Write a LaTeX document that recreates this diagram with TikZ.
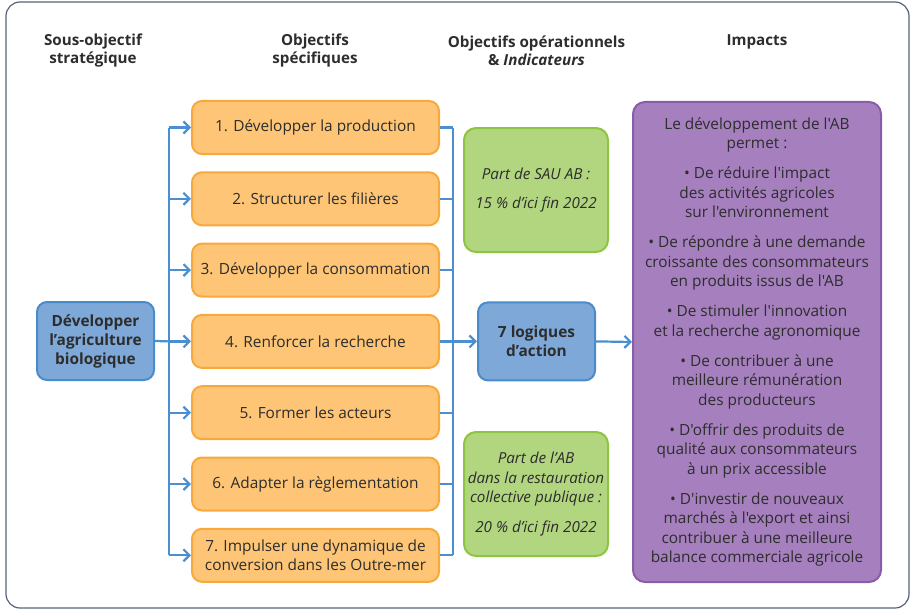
\documentclass[tikz,border=0pt]{standalone}
\usepackage{fontspec}
\setmainfont{Open Sans}[Ligatures=TeXOff]
\usetikzlibrary{arrows.meta}
\definecolor{orF}{HTML}{FDC575}
\definecolor{orD}{HTML}{F7A93B}
\definecolor{blF}{HTML}{7DA8D8}
\definecolor{blD}{HTML}{4A8BCB}
\definecolor{grF}{HTML}{B2D57F}
\definecolor{grD}{HTML}{8CC540}
\definecolor{puF}{HTML}{A680BE}
\definecolor{puD}{HTML}{8A5BA8}
\definecolor{cn}{HTML}{4B8FD0}
\definecolor{txt}{HTML}{2D2D2D}
\definecolor{frame}{HTML}{56627A}
\begin{document}
\begin{tikzpicture}[x=1pt,y=-1pt,
  head/.style={font=\fontsize{15.2}{18}\selectfont\bfseries, text=txt, align=center},
  obox/.style={draw=orD, fill=orF, line width=2pt, rounded corners=10pt, minimum width=247pt, minimum height=53pt, align=center, text=txt, inner sep=2pt, font=\fontsize{15.4}{19}\selectfont},
  bbox/.style={draw=blD, fill=blF, line width=2pt, rounded corners=10pt, minimum width=117pt, minimum height=78pt, align=center, text=txt, inner sep=2pt, font=\fontsize{15.4}{19}\selectfont\bfseries},
  gbox/.style={draw=grD, fill=grF, line width=2pt, rounded corners=12pt, minimum width=144pt, minimum height=124pt, align=center, text=txt, inner sep=2pt, font=\fontsize{15.2}{19.5}\selectfont\itshape},
  pbox/.style={draw=puD, fill=puF, line width=2pt, rounded corners=12pt, minimum width=248pt, minimum height=480pt, align=center, text=txt, inner sep=2pt, font=\fontsize{15.4}{19.5}\selectfont},
  conn/.style={draw=cn, line width=2.2pt},
  arr/.style={conn, -{Straight Barb[length=6pt,width=12pt]}},
]
\useasboundingbox (0,0) rectangle (911,610);
\clip (0,0) rectangle (911,610);
\draw[frame, line width=1.2pt, rounded corners=14pt] (6,2) rectangle (909,608);

% headers
\node[head] (h1) at (93,51) {Sous-objectif\\stratégique};
\node[head] (h2) at (315,51) {Objectifs\\spécifiques};
\node[head] (h3) at (536.5,51) {Objectifs opérationnels\\\& \textit{Indicateurs}};
\node[head] (h4) at (757,42) {Impacts};

% left box
\node[bbox] (L) at (95.5,341) {Développer\\l’agriculture\\biologique};

% orange boxes
\node[obox] (o1) at (315.5,127.5) {1. Développer la production};
\node[obox] (o2) at (315.5,198.8) {2. Structurer les filières};
\node[obox] (o3) at (315.5,270.1) {3. Développer la consommation};
\node[obox] (o4) at (315.5,341.4) {4. Renforcer la recherche};
\node[obox] (o5) at (315.5,412.7) {5. Former les acteurs};
\node[obox] (o6) at (315.5,484) {6. Adapter la règlementation};
\node[obox] (o7) at (315.5,555.3) {7. Impulser une dynamique de\\conversion dans les Outre-mer};

% green boxes
\node[gbox] (g1) at (536,190) {Part de SAU AB :\\[9.5pt]15 \% d’ici fin 2022};
\node[gbox] (g2) at (536,494) {Part de l’AB\\dans la restauration\\collective publique :\\[10pt]20 \% d’ici fin 2022};

% blue centre
\node[bbox] (B) at (536.5,341.4) {7 logiques\\d’action};

% purple
\node[pbox] (P) at (757,342) {Le développement de l'AB\\permet :\\[10.5pt]
• De réduire l'impact\\des activités agricoles\\sur l'environnement\\[10.5pt]
• De répondre à une demande\\croissante des consommateurs\\en produits issus de l'AB\\[10.5pt]
• De stimuler l'innovation\\et la recherche agronomique\\[10.5pt]
• De contribuer à une\\meilleure rémunération\\des producteurs\\[10.5pt]
• D'offrir des produits de\\qualité aux consommateurs\\à un prix accessible\\[10.5pt]
• D'investir de nouveaux\\marchés à l'export et ainsi\\contribuer à une meilleure\\balance commerciale agricole};

% left bus
\coordinate (lb1) at ([xshift=-22pt]o1.west);
\coordinate (lb7) at ([xshift=-22pt]o7.west);
\draw[conn] (lb1) -- (lb7);
\draw[conn] (L.east) -- ([xshift=-22pt]o4.west);
\foreach \i in {1,...,7} {
  \draw[arr] ([xshift=-22pt]o\i.west) -- (o\i.west);
}
% right bus
\coordinate (rb1) at ([xshift=13pt]o1.east);
\coordinate (rb7) at ([xshift=13pt]o7.east);
\draw[conn] (rb1) -- (rb7);
\foreach \i in {1,...,7} {
  \draw[conn] (o\i.east) -- ([xshift=13pt]o\i.east);
}
\draw[arr] ([xshift=13pt]o4.east) -- (B.west);
\draw[arr] (B.east) -- (P.west);
\end{tikzpicture}
\end{document}
